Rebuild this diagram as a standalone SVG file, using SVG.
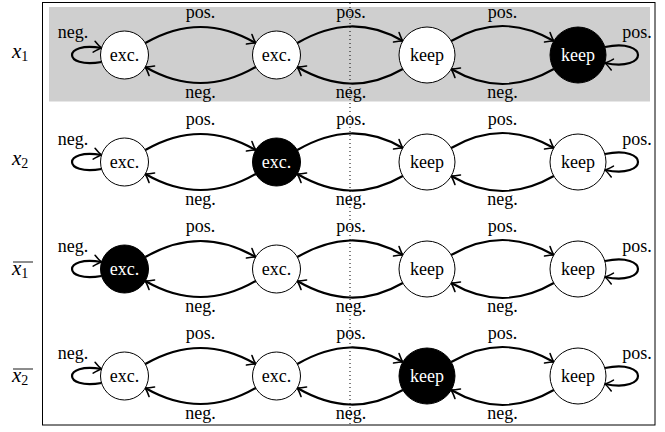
<svg xmlns="http://www.w3.org/2000/svg" width="665" height="432" viewBox="0 0 665 432">
<style>
text{font-family:"Liberation Serif","Times New Roman",serif;font-size:18px;fill:#000;text-anchor:middle}
.w{fill:#fff}
.arc{fill:none;stroke:#000;stroke-width:2.2;marker-end:url(#ah)}
.nd{fill:#fff;stroke:#000;stroke-width:1}
.bk{fill:#000;stroke:#000;stroke-width:1}
.m{text-anchor:start;font-size:21px}
.ov{stroke:#000;stroke-width:0.9}
</style>
<defs>
<marker id="ah" markerUnits="userSpaceOnUse" markerWidth="14" markerHeight="14" refX="0" refY="0" orient="auto" overflow="visible">
<path d="M-7.5,-5.5 Q-2.5,-1.3 0,0 Q-2.5,1.3 -7.5,5.5" fill="none" stroke="#000" stroke-width="1.6" stroke-linecap="round"/>
</marker>
</defs>
<rect x="42.5" y="2.5" width="612.5" height="422.5" fill="#fff" stroke="#000" stroke-width="1"/>
<rect x="49" y="7" width="601" height="94.5" fill="#cfcfcf"/>
<line x1="350" y1="3" x2="350" y2="424" stroke="#000" stroke-width="1" stroke-dasharray="1 3"/>

<g id="rowlabels">
<text class="m" x="12" y="58"><tspan font-style="italic">x</tspan><tspan font-size="14" dy="3">1</tspan></text>
<text class="m" x="12" y="165"><tspan font-style="italic">x</tspan><tspan font-size="14" dy="3">2</tspan></text>
<text class="m" x="12" y="275"><tspan font-style="italic">x</tspan><tspan font-size="14" dy="3">1</tspan></text>
<line class="ov" x1="13" y1="262" x2="33" y2="262"/>
<text class="m" x="12" y="382"><tspan font-style="italic">x</tspan><tspan font-size="14" dy="3">2</tspan></text>
<line class="ov" x1="13" y1="369" x2="33" y2="369"/>
</g>

<g id="connectors">
<g transform="translate(0,55)">
<path class="arc" d="M145.3,-12 C182.7,-33.6 218.3,-33.6 255.7,-12"/>
<path class="arc" d="M255.7,12 C218.3,33.6 182.7,33.6 145.3,12"/>
<path class="arc" d="M297.3,-12 C333.1,-32.7 367,-34.7 402.8,-14"/>
<path class="arc" d="M402.8,14 C367,34.7 333.1,32.7 297.3,12"/>
<path class="arc" d="M451.2,-14 C486,-34.1 519,-34.1 553.8,-14"/>
<path class="arc" d="M553.8,14 C519,34.1 486,34.1 451.2,14"/>
<path class="arc" d="M101.5,7 C62.2,14 62.2,-14 101.5,-7"/>
<path class="arc" d="M605,-8 C649,-17 649,17 605,8"/>
<text x="200.5" y="-37">pos.</text><text x="351" y="-37">pos.</text><text x="502.5" y="-37">pos.</text>
<text x="200.5" y="43">neg.</text><text x="351" y="43">neg.</text><text x="502.5" y="43">neg.</text>
<text x="73" y="-17">neg.</text><text x="637" y="-17">pos.</text>
</g>
<g transform="translate(0,162)">
<path class="arc" d="M145.3,-12 C182.7,-33.6 218.3,-33.6 255.7,-12"/>
<path class="arc" d="M255.7,12 C218.3,33.6 182.7,33.6 145.3,12"/>
<path class="arc" d="M297.3,-12 C333.1,-32.7 367,-34.7 402.8,-14"/>
<path class="arc" d="M402.8,14 C367,34.7 333.1,32.7 297.3,12"/>
<path class="arc" d="M451.2,-14 C486,-34.1 519,-34.1 553.8,-14"/>
<path class="arc" d="M553.8,14 C519,34.1 486,34.1 451.2,14"/>
<path class="arc" d="M101.5,7 C62.2,14 62.2,-14 101.5,-7"/>
<path class="arc" d="M605,-8 C649,-17 649,17 605,8"/>
<text x="200.5" y="-37">pos.</text><text x="351" y="-37">pos.</text><text x="502.5" y="-37">pos.</text>
<text x="200.5" y="43">neg.</text><text x="351" y="43">neg.</text><text x="502.5" y="43">neg.</text>
<text x="73" y="-17">neg.</text><text x="637" y="-17">pos.</text>
</g>
<g transform="translate(0,269)">
<path class="arc" d="M145.3,-12 C182.7,-33.6 218.3,-33.6 255.7,-12"/>
<path class="arc" d="M255.7,12 C218.3,33.6 182.7,33.6 145.3,12"/>
<path class="arc" d="M297.3,-12 C333.1,-32.7 367,-34.7 402.8,-14"/>
<path class="arc" d="M402.8,14 C367,34.7 333.1,32.7 297.3,12"/>
<path class="arc" d="M451.2,-14 C486,-34.1 519,-34.1 553.8,-14"/>
<path class="arc" d="M553.8,14 C519,34.1 486,34.1 451.2,14"/>
<path class="arc" d="M101.5,7 C62.2,14 62.2,-14 101.5,-7"/>
<path class="arc" d="M605,-8 C649,-17 649,17 605,8"/>
<text x="200.5" y="-37">pos.</text><text x="351" y="-37">pos.</text><text x="502.5" y="-37">pos.</text>
<text x="200.5" y="43">neg.</text><text x="351" y="43">neg.</text><text x="502.5" y="43">neg.</text>
<text x="73" y="-17">neg.</text><text x="637" y="-17">pos.</text>
</g>
<g transform="translate(0,376)">
<path class="arc" d="M145.3,-12 C182.7,-33.6 218.3,-33.6 255.7,-12"/>
<path class="arc" d="M255.7,12 C218.3,33.6 182.7,33.6 145.3,12"/>
<path class="arc" d="M297.3,-12 C333.1,-32.7 367,-34.7 402.8,-14"/>
<path class="arc" d="M402.8,14 C367,34.7 333.1,32.7 297.3,12"/>
<path class="arc" d="M451.2,-14 C486,-34.1 519,-34.1 553.8,-14"/>
<path class="arc" d="M553.8,14 C519,34.1 486,34.1 451.2,14"/>
<path class="arc" d="M101.5,7 C62.2,14 62.2,-14 101.5,-7"/>
<path class="arc" d="M605,-8 C649,-17 649,17 605,8"/>
<text x="200.5" y="-37">pos.</text><text x="351" y="-37">pos.</text><text x="502.5" y="-37">pos.</text>
<text x="200.5" y="43">neg.</text><text x="351" y="43">neg.</text><text x="502.5" y="43">neg.</text>
<text x="73" y="-17">neg.</text><text x="637" y="-17">pos.</text>
</g>
</g>

<g id="r1n1"><circle class="nd" cx="124.5" cy="55" r="24"/><text x="124.5" y="61">exc.</text></g>
<g id="r1n2"><circle class="nd" cx="276.5" cy="55" r="24"/><text x="276.5" y="61">exc.</text></g>
<g id="r1n3"><circle class="nd" cx="427" cy="55" r="28"/><text x="427" y="61">keep</text></g>
<g id="r1n4"><circle class="bk" cx="578" cy="55" r="28"/><text class="w" x="578" y="61">keep</text></g>

<g id="r2n1"><circle class="nd" cx="124.5" cy="162" r="24"/><text x="124.5" y="168">exc.</text></g>
<g id="r2n2"><circle class="bk" cx="276.5" cy="162" r="24"/><text class="w" x="276.5" y="168">exc.</text></g>
<g id="r2n3"><circle class="nd" cx="427" cy="162" r="28"/><text x="427" y="168">keep</text></g>
<g id="r2n4"><circle class="nd" cx="578" cy="162" r="28"/><text x="578" y="168">keep</text></g>

<g id="r3n1"><circle class="bk" cx="124.5" cy="269" r="24"/><text class="w" x="124.5" y="275">exc.</text></g>
<g id="r3n2"><circle class="nd" cx="276.5" cy="269" r="24"/><text x="276.5" y="275">exc.</text></g>
<g id="r3n3"><circle class="nd" cx="427" cy="269" r="28"/><text x="427" y="275">keep</text></g>
<g id="r3n4"><circle class="nd" cx="578" cy="269" r="28"/><text x="578" y="275">keep</text></g>

<g id="r4n1"><circle class="nd" cx="124.5" cy="376" r="24"/><text x="124.5" y="382">exc.</text></g>
<g id="r4n2"><circle class="nd" cx="276.5" cy="376" r="24"/><text x="276.5" y="382">exc.</text></g>
<g id="r4n3"><circle class="bk" cx="427" cy="376" r="28"/><text class="w" x="427" y="382">keep</text></g>
<g id="r4n4"><circle class="nd" cx="578" cy="376" r="28"/><text x="578" y="382">keep</text></g>
</svg>
